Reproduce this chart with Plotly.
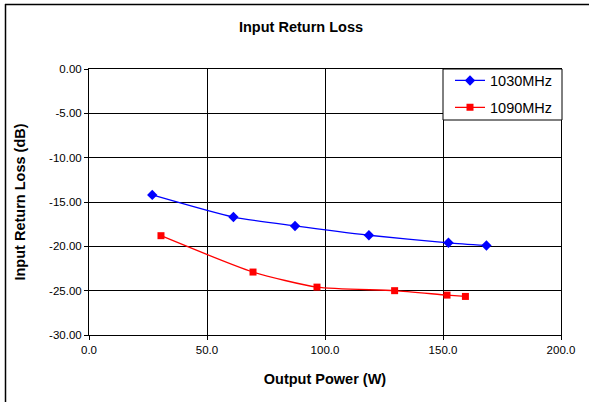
import plotly.graph_objects as go

power_1030 = [26.8, 61.2, 87.3, 118.6, 152.3, 168.4]
loss_1030 = [-14.2, -16.7, -17.7, -18.75, -19.6, -19.9]
power_1090 = [30.5, 69.5, 96.6, 129.5, 151.7, 159.5]
loss_1090 = [-18.8, -22.9, -24.6, -25.0, -25.5, -25.65]

x_ticks = [0, 50, 100, 150, 200]
y_ticks = [0, -5, -10, -15, -20, -25, -30]

FONT = "Liberation Sans, Arial, sans-serif"

fig = go.Figure()
fig.add_trace(go.Scatter(
    x=power_1030, y=loss_1030, name="1030MHz", mode="lines+markers",
    legendgroup="a",
    line=dict(color="#0000FF", width=1.3, shape="spline", smoothing=0.6),
    marker=dict(symbol="diamond", size=8, color="#0000FF"),
))
fig.add_trace(go.Scatter(
    x=power_1090, y=loss_1090, name="1090MHz", mode="lines+markers",
    legendgroup="b",
    line=dict(color="#FF0000", width=1.3, shape="spline", smoothing=0.6),
    marker=dict(symbol="square", size=7, color="#FF0000"),
))

W, H = 589, 402
# target plot area in screen px: x 89..561, y 69..335
L, R, T, B = 89, W - 561, 69, H - 335
pw, ph = 561 - 89, 335 - 69

def px(xs):
    return (xs - 89) / pw

def py(ys):
    return (335 - ys) / ph

fig.update_layout(
    width=W, height=H,
    margin=dict(l=L, r=R, t=T, b=B),
    paper_bgcolor="white", plot_bgcolor="white",
    font=dict(family=FONT, size=11.5, color="black"),
    title=dict(text="<b>Input Return Loss</b>", x=px(301), xref="paper",
               xanchor="center", y=1 - 27 / H, yanchor="middle",
               font=dict(size=14.5)),
    showlegend=True,
    legend=dict(x=px(450), y=py(64.5), xanchor="left", yanchor="top",
                bgcolor="rgba(0,0,0,0)", borderwidth=0,
                font=dict(size=14.5), itemwidth=30,
                traceorder="grouped", tracegroupgap=5),
    xaxis=dict(range=[0, 200], tickvals=x_ticks,
               ticktext=[f"{v:.1f}" for v in x_ticks],
               showgrid=True, gridcolor="black", gridwidth=1,
               zeroline=False, showline=True, linecolor="black", linewidth=1,
               mirror=True, ticks="outside", ticklen=4, tickcolor="black",
               title=dict(text="<b>Output Power (W)</b>", font=dict(size=14.5),
                          standoff=19)),
    yaxis=dict(range=[-30, 0], tickvals=y_ticks,
               ticktext=[f"{v:.2f}" for v in y_ticks],
               showgrid=True, gridcolor="black", gridwidth=1,
               zeroline=False, showline=True, linecolor="black", linewidth=1,
               mirror=True, ticks="outside", ticklen=4, tickcolor="black",
               title=dict(text="<b>Input Return Loss (dB)</b>", font=dict(size=14.5),
                          standoff=20)),
)

# legend box
fig.add_shape(type="rect", xref="paper", yref="paper", layer="above",
              x0=px(443), x1=px(562), y0=py(120), y1=py(69),
              fillcolor="white", line=dict(color="black", width=1))

# outer chart border (top and left edges only visible)
fig.add_shape(type="line", xref="paper", yref="paper",
              x0=px(5), x1=px(600), y0=py(4.5), y1=py(4.5),
              line=dict(color="black", width=1.5))
fig.add_shape(type="line", xref="paper", yref="paper",
              x0=px(5.5), x1=px(5.5), y0=py(4), y1=py(410),
              line=dict(color="black", width=1.5))

fig.write_html("out.html", config={"displayModeBar": False},
               post_script="document.body.style.margin='0';")
